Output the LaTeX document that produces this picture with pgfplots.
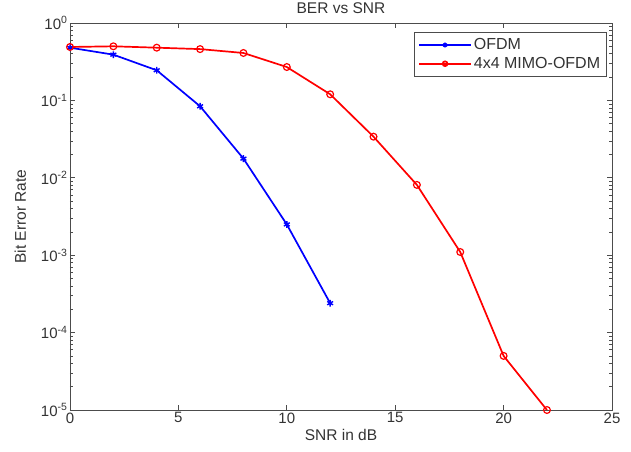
\documentclass[border=0pt]{standalone}
\usepackage{fontspec}
\setmainfont{Liberation Sans}
\usepackage{pgfplots}
\pgfplotsset{compat=1.18}
\begin{document}
\begin{tikzpicture}
\useasboundingbox (0,0) rectangle (631pt,451pt);
\begin{axis}[
    at={(70pt,41pt)}, anchor=south west,
    scale only axis,
    width=542pt, height=387pt,
    ymode=log,
    xmin=0, xmax=25,
    ymin=1e-5, ymax=1,
    xtick={0,5,10,15,20,25},
    xticklabels={0,5,10,15,20,25},
    ytick={1e-5,1e-4,1e-3,1e-2,1e-1,1},
    yticklabels={10\textsuperscript{-5},10\textsuperscript{-4},10\textsuperscript{-3},10\textsuperscript{-2},10\textsuperscript{-1},10\textsuperscript{0}},
    tick align=inside,
    axis line style={draw=black!70, line width=0.9pt},
    tick style={draw=black!70, line width=0.7pt},
    major tick length=5pt,
    minor tick length=3pt,
    tick label style={font=\fontsize{15}{17}\selectfont, text=black!80},
    xticklabel style={yshift=1pt},
    yticklabel style={xshift=1pt},
    title={BER vs SNR},
    title style={font=\fontsize{15.5}{17}\selectfont, text=black!80, yshift=0pt},
    xlabel={SNR in dB},
    ylabel={Bit Error Rate},
    label style={font=\fontsize{15.5}{17}\selectfont, text=black!80},
    xlabel style={yshift=1pt},
    ylabel style={yshift=8pt},
    legend style={at={(0.99,0.976)}, anchor=north east,
        draw=black!70, line width=0.9pt,
        font=\fontsize{16}{18}\selectfont, text=black!80,
        cells={anchor=west}, row sep=2pt, inner xsep=4pt, inner ysep=4pt},
    legend image code/.code={
        \draw[#1] (0pt,0pt) -- (52pt,0pt);
        \path[#1] plot[mark size=2.4pt] coordinates {(26pt,0pt)};
    },
]
\addplot[color=blue, line width=1.7pt, mark=asterisk, mark size=3.4pt,
    mark options={line width=1.4pt}, forget plot]
coordinates {
    (0, 0.48)
    (2, 0.39)
    (4, 0.245)
    (6, 0.084)
    (8, 0.0177)
    (10, 0.0025)
    (12, 0.00024)
};
\addplot[color=red, line width=1.7pt, mark=o, mark size=3.4pt,
    mark options={line width=1.2pt}, forget plot]
coordinates {
    (0, 0.49)
    (2, 0.50)
    (4, 0.48)
    (6, 0.46)
    (8, 0.41)
    (10, 0.27)
    (12, 0.12)
    (14, 0.034)
    (16, 0.0081)
    (18, 0.0011)
    (20, 5.0e-5)
    (22, 1.0e-5)
};
\addlegendimage{color=blue, line width=1.7pt, mark=asterisk}
\addlegendentry{OFDM}
\addlegendimage{color=red, line width=1.7pt, mark=o}
\addlegendentry{4x4 MIMO-OFDM}
\end{axis}
\end{tikzpicture}
\end{document}
